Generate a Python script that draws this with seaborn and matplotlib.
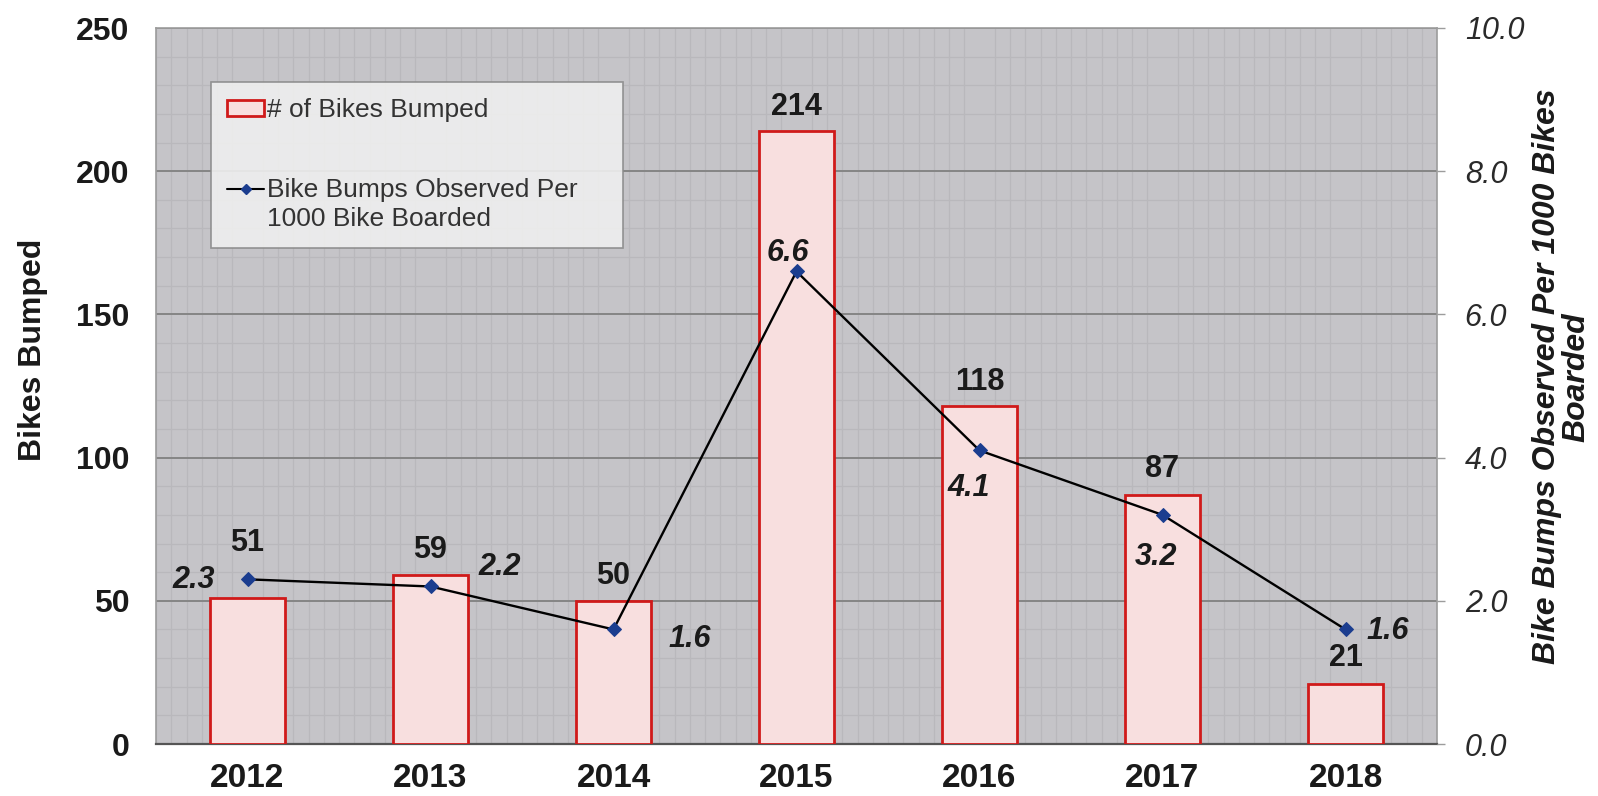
import numpy as np
import matplotlib
matplotlib.use("Agg")
import matplotlib.pyplot as plt
import seaborn as sns
from matplotlib.ticker import MultipleLocator, FormatStrFormatter
from matplotlib.patches import Patch
from matplotlib.lines import Line2D
from matplotlib.legend_handler import HandlerLine2D

# ---------------------------
# Data
# ---------------------------
years = ["2012", "2013", "2014", "2015", "2016", "2017", "2018"]
bikes_bumped = [51, 59, 50, 214, 118, 87, 21]
bumps_per_1000 = [2.3, 2.2, 1.6, 6.6, 4.1, 3.2, 1.6]

# label offsets in pixels (x, y) for the rate labels
rate_label_offsets = [(-54, -1), (69, 19), (76, -10), (-9, 18), (-11, -38), (-6, -42), (42, -2)]
count_label_offsets = [55, 25, 25, 24, 24, 26, 26]


# line handle sits on the first line of a two-line legend label
class UpperLineHandler(HandlerLine2D):
    def create_artists(self, legend, orig_handle, xdescent, ydescent, width, height, fontsize, trans):
        return super().create_artists(legend, orig_handle, xdescent, ydescent - 24,
                                      width, height, fontsize, trans)


# ---------------------------
# Style
# ---------------------------
sns.set_style("white")
plt.rcParams['font.family'] = ['Liberation Sans', 'DejaVu Sans']

bg_color = "#c5c4c8"
bar_face = "#f8dfdf"
bar_edge = "#d01a1a"

fig = plt.figure(figsize=(15.98, 7.96), dpi=100)
ax = fig.add_axes([156/1598, 1 - 744/796, 1281/1598, 716/796])
ax.set_facecolor(bg_color)

sns.barplot(x=years, y=bikes_bumped, ax=ax, color=bar_face, edgecolor=bar_edge,
            linewidth=2, width=0.41, saturation=1, zorder=3)

ax.set_ylim(0, 250)
ax.set_xlim(-0.5, len(years) - 0.5)
ax.yaxis.set_major_locator(MultipleLocator(50))
ax.yaxis.set_minor_locator(MultipleLocator(10))
ax.xaxis.set_minor_locator(MultipleLocator(1 / 12))
ax.grid(which="minor", color="#b9b8bc", linewidth=0.9, zorder=0)
ax.grid(which="major", axis="y", color="#858585", linewidth=1.4, zorder=1)
ax.set_axisbelow(True)

ax.tick_params(axis="y", which="both", length=0, pad=19, labelsize=23)
ax.tick_params(axis="x", which="both", length=0, pad=14, labelsize=24)
for lbl in ax.get_yticklabels() + ax.get_xticklabels():
    lbl.set_fontweight("bold")
    lbl.set_color("#1a1a1a")

ax.set_xlabel("")
ax.set_ylabel("Bikes Bumped", fontsize=23, fontweight="bold", color="#1a1a1a")
ax.yaxis.set_label_coords(-0.084, 0.55)

for s in ["top", "left", "right"]:
    ax.spines[s].set_color("#9c9c9c")
    ax.spines[s].set_linewidth(1.2)
ax.spines["bottom"].set_color("#555555")
ax.spines["bottom"].set_linewidth(1.6)

# bar count labels
for i, v in enumerate(bikes_bumped):
    ax.annotate(str(v), (i, v), xytext=(0, count_label_offsets[i]), textcoords="offset pixels",
                ha="center", va="center", fontsize=22, fontweight="bold", color="#1a1a1a", zorder=6)

# ---------------------------
# Secondary axis: rate line
# ---------------------------
ax2 = ax.twinx()
xpos = np.arange(len(years))
sns.lineplot(x=xpos, y=bumps_per_1000, ax=ax2, color="black", linewidth=1.7,
             marker="D", markersize=7, markerfacecolor="#1b3d8f", markeredgecolor="#1b3d8f", zorder=5)
ax2.set_ylim(0, 10)
ax2.set_xlim(-0.5, len(years) - 0.5)
ax2.yaxis.set_major_locator(MultipleLocator(2))
ax2.yaxis.set_major_formatter(FormatStrFormatter("%.1f"))
ax2.tick_params(axis="y", length=6, width=1, color="#9c9c9c", pad=14, labelsize=22,
                labelcolor="#2a2a2a")
for lbl in ax2.get_yticklabels():
    lbl.set_fontstyle("italic")
ax2.set_ylabel("Bike Bumps Observed Per 1000 Bikes\nBoarded", fontsize=23,
               fontweight="bold", fontstyle="italic", rotation=90, linespacing=1.0,
               color="#1a1a1a")
ax2.yaxis.set_label_coords(1.074, 0.513)
for s in ax2.spines.values():
    s.set_visible(False)

for i, v in enumerate(bumps_per_1000):
    dx, dy = rate_label_offsets[i]
    ax2.annotate(f"{v:.1f}", (i, v), xytext=(dx, dy), textcoords="offset pixels",
                 ha="center", va="center", fontsize=22, fontweight="bold",
                 fontstyle="italic", color="#1a1a1a", zorder=6)

# ---------------------------
# Legend
# ---------------------------
rate_handle = Line2D([0], [0], color="black", linewidth=1.5, marker="D", markersize=5,
                     markerfacecolor="#1b3d8f", markeredgecolor="#1b3d8f",
                     label="Bike Bumps Observed Per\n1000 Bike Boarded")
handles = [
    Patch(facecolor=bar_face, edgecolor=bar_edge, linewidth=2, label="# of Bikes Bumped"),
    rate_handle,
]
leg = ax2.legend(handles=handles, loc="upper left", bbox_to_anchor=(0.0429, 0.6946, 0.322, 0.23),
                 mode="expand", fontsize=19, frameon=True, fancybox=False,
                 facecolor="#efefef", edgecolor="#8a8a8a", framealpha=0.9,
                 handlelength=1.4, handleheight=0.6, handletextpad=0.1,
                 labelspacing=2.1, borderpad=0.62, borderaxespad=0,
                 handler_map={rate_handle: UpperLineHandler()})
leg.get_frame().set_linewidth(1.2)
for t in leg.get_texts():
    t.set_color("#333333")
    t.set_linespacing(1.3)

plt.savefig("out.png", dpi=100)
